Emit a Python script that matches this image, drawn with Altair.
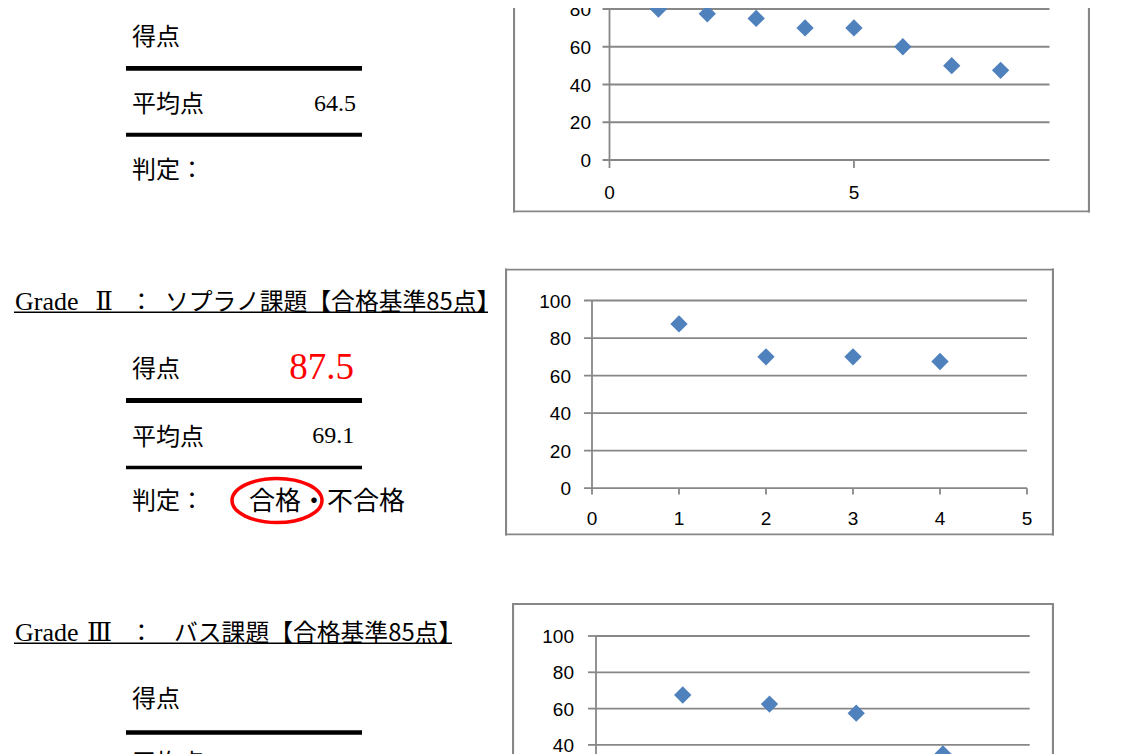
import altair as alt
import pandas as pd

# ---------------- document text ----------------
grade_word = "Grade"
grade_numerals = ["Ⅱ", "Ⅲ"]
grade_colon = "："
grade_tasks = ["ソプラノ課題【合格基準85点】", "バス課題【合格基準85点】"]
row_labels = ["得点", "平均点", "判定："]
score_values = ["", "87.5", ""]
average_values = ["64.5", "69.1", ""]
verdict_options = "合格・不合格"

# ---------------- chart data ----------------
c1_x = [1, 2, 3, 4, 5, 6, 7, 8]
c1_y = [80, 77.5, 75, 70, 70, 60, 50, 47.5]
c2_x = [1, 2, 3, 4]
c2_y = [87.5, 70, 70, 67.5]
c3_x = [1, 2, 3, 4]
c3_y = [67.5, 62.5, 57.5, 35]

y_ticks = [0, 20, 40, 60, 80, 100]
y_max = 100
c1_x_ticks = [0, 5]
c1_x_max = 9
c23_x_ticks = [0, 1, 2, 3, 4, 5]
c23_x_max = 5

# ---------------- styles ----------------
GRAY = "#878787"
BLUE = "#4F81BD"
RED = "#FF0000"
CJK = "Noto Sans CJK JP"
SERIF = "Liberation Serif"
NUM_FONT = "DejaVu Serif, Noto Sans CJK JP"
LABEL_FONT = "Liberation Sans"

ELLIPSE = ("M -1 0 C -1 -0.27 -0.552 -0.489 0 -0.489 "
           "C 0.552 -0.489 1 -0.27 1 0 "
           "C 1 0.27 0.552 0.489 0 0.489 "
           "C -0.552 0.489 -1 0.27 -1 0 Z")


def frame(W, H, top=True):
    fdf = pd.DataFrame({"a": [0]})
    fr = dict(color=GRAY, strokeWidth=2.2, clip=True, strokeCap="square")
    out = [
        alt.Chart(fdf).mark_rule(**fr).encode(
            x=alt.value(1), y=alt.value(0), y2=alt.value(H)),
        alt.Chart(fdf).mark_rule(**fr).encode(
            x=alt.value(W - 1), y=alt.value(0), y2=alt.value(H)),
        alt.Chart(fdf).mark_rule(**fr).encode(
            x=alt.value(0), x2=alt.value(W), y=alt.value(H - 1)),
    ]
    if top:
        out.append(alt.Chart(fdf).mark_rule(**fr).encode(
            x=alt.value(0), x2=alt.value(W), y=alt.value(1)))
    return out


def scatter(xv, yv, x_ticks, x_max, W, H, ax0, ax1, ay0, ay1,
            ytl, xtl, ydx, xdy, top=True):
    xs = alt.Scale(domain=[0, x_max], range=[ax0, ax1], nice=False, zero=False)
    ys = alt.Scale(domain=[0, y_max], range=[ay0, ay1], nice=False, zero=False)

    def X(f):
        return alt.X(f"{f}:Q", scale=xs, axis=None)

    def Y(f):
        return alt.Y(f"{f}:Q", scale=ys, axis=None)

    n = len(y_ticks)
    ydf = pd.DataFrame({"v": y_ticks, "x0": [0] * n, "x1": [x_max] * n})
    xdf = pd.DataFrame({"v": x_ticks, "y0": [0] * len(x_ticks)})
    adf = pd.DataFrame({"x0": [0], "y0": [0], "y1": [y_max]})
    pdf = pd.DataFrame({"x": xv, "y": yv})

    line = dict(color=GRAY, strokeWidth=1.8, clip=True)
    grid = alt.Chart(ydf).mark_rule(**line).encode(
        y=Y("v"), x=X("x0"), x2=alt.X2("x1"))
    yaxis = alt.Chart(adf).mark_rule(**line).encode(
        x=X("x0"), y=Y("y0"), y2=alt.Y2("y1"))
    yt = alt.Chart(ydf).mark_rule(x2Offset=-ytl, **line).encode(
        y=Y("v"), x=X("x0"), x2=alt.X2("x0"))
    xt = alt.Chart(xdf).mark_rule(y2Offset=xtl, **line).encode(
        x=X("v"), y=Y("y0"), y2=alt.Y2("y0"))
    yl = alt.Chart(ydf).mark_text(
        align="right", baseline="middle", dx=ydx, dy=1, font=LABEL_FONT,
        fontSize=19, color="black", clip=True
    ).encode(y=Y("v"), x=X("x0"), text=alt.Text("v:Q", format="d"))
    xl = alt.Chart(xdf).mark_text(
        align="center", baseline="middle", dy=xdy, font=LABEL_FONT,
        fontSize=19, color="black", clip=True
    ).encode(x=X("v"), y=Y("y0"), text=alt.Text("v:Q", format="d"))
    pts = alt.Chart(pdf).mark_point(
        shape="diamond", filled=True, size=300, color=BLUE, opacity=1, clip=True
    ).encode(x=X("x"), y=Y("y"))

    layers = [grid, yaxis, yt, xt, yl, xl, pts] + frame(W, H, top)
    return alt.layer(*layers).properties(width=W, height=H)


def T(text, x, y, size=24, font=CJK, align="left", baseline="middle", color="black"):
    return alt.Chart(pd.DataFrame({"t": [text]})).mark_text(
        align=align, baseline=baseline, font=font, fontSize=size, color=color
    ).encode(x=alt.value(x), y=alt.value(y), text="t:N")


def R(x0, x1, y, w):
    return alt.Chart(pd.DataFrame({"a": [0]})).mark_rule(
        color="black", strokeWidth=w, strokeCap="butt"
    ).encode(x=alt.value(x0), x2=alt.value(x1), y=alt.value(y))


def title(numeral, num_x, task, task_x, base, line_end):
    return [
        T(grade_word, 7, base, size=26, font=SERIF, baseline="alphabetic"),
        T(numeral, num_x, base, size=26, font=NUM_FONT, align="center",
          baseline="alphabetic"),
        T(grade_colon, 133.5, base, size=23.8, align="center", baseline="alphabetic"),
        T(task, task_x, base, size=23.8, baseline="alphabetic"),
        R(6, line_end, base + 2.7, 1.6),
    ]


# ---------------- row 1 ----------------
panel1 = alt.layer(
    T(row_labels[0], 124, 29.7),
    R(118, 354, 60.3, 4.7),
    T(row_labels[1], 124, 96.7),
    T(average_values[0], 348, 96.3, size=24, font=SERIF, align="right"),
    R(118, 354, 126.7, 4),
    T(row_labels[2], 124, 163),
).properties(width=504.5, height=204.5)

chart1 = scatter(c1_x, c1_y, c1_x_ticks, c1_x_max, 577, 204.5,
                 96.5, 536.5, 152, -36.75, 7, 8, -18.5, 32.7, top=False)

# ---------------- row 2 ----------------
ellipse = alt.Chart(pd.DataFrame({"a": [0]})).mark_point(
    shape=ELLIPSE, size=8100, filled=False, stroke=RED, color=RED,
    strokeWidth=3.5, opacity=1
).encode(x=alt.value(269), y=alt.value(232))

panel2 = alt.layer(
    *title(grade_numerals[0], 96, grade_tasks[0], 157, 41, 480),
    T(row_labels[0], 124, 101),
    T(score_values[1], 346, 99.5, size=37, font=SERIF, align="right", color=RED),
    R(118, 354, 132, 5),
    T(row_labels[1], 124, 169),
    T(average_values[1], 346.3, 167.5, size=24, font=SERIF, align="right"),
    R(118, 354, 199, 3.5),
    T(row_labels[2], 124, 233.5),
    T(verdict_options, 241, 233.5, size=26),
    ellipse,
).properties(width=497, height=278.5)

chart2 = scatter(c2_x, c2_y, c23_x_ticks, c23_x_max, 549, 267,
                 87, 522, 219.7, 32, 8, 6.3, -21, 31)

# ---------------- row 3 ----------------
panel3 = alt.layer(
    *title(grade_numerals[1], 91.5, grade_tasks[1], 166, 37.5, 444),
    T(row_labels[0], 124, 97),
    R(118, 354, 129.5, 4.5),
    T(row_labels[1], 124, 160.7),
).properties(width=504, height=262)

chart3 = scatter(c3_x, c3_y, c23_x_ticks, c23_x_max, 542, 262,
                 84, 517.7, 214.5, 33, 8, 6.5, -22, 31)

row1 = alt.hconcat(panel1, chart1, spacing=0)
row2 = alt.hconcat(panel2, chart2, spacing=0)
row3 = alt.hconcat(panel3, chart3, spacing=0)

chart = alt.vconcat(row1, row2, row3, spacing=55.5).properties(
    padding=0, background="white"
).configure_view(stroke=None)

chart.save("out.html", embed_options={"renderer": "svg", "actions": False})
